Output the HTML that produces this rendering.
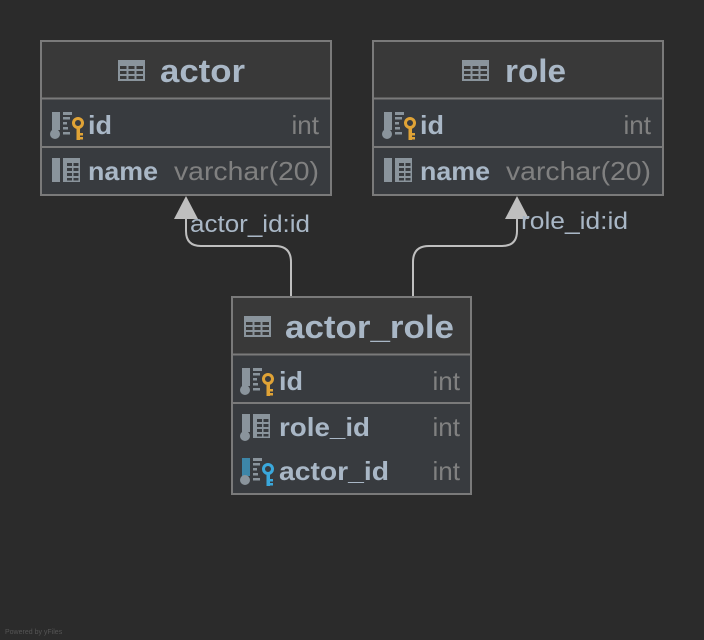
<!DOCTYPE html>
<html><head><meta charset="utf-8"><style>
html,body{margin:0;padding:0;background:#2b2b2b;}
svg{display:block}
text{font-family:"Liberation Sans","DejaVu Sans",sans-serif;}
.t{font-size:32px;font-weight:bold;fill:#a9b7c6}
.n{font-size:26px;font-weight:bold;fill:#a9b7c6}
.ty{font-size:26px;fill:#808080}
.lb{font-size:24px;fill:#a9b7c6}
</style></head><body>
<svg width="704" height="640" viewBox="0 0 704 640" xmlns="http://www.w3.org/2000/svg">
<defs>
 <g id="tbl"><rect x="0" y="0" width="27" height="21" fill="#8a949c"/>
  <g fill="#393939"><rect x="2" y="6" width="6.5" height="3"/><rect x="10.5" y="6" width="6" height="3"/><rect x="18.5" y="6" width="6.5" height="3"/>
  <rect x="2" y="11" width="6.5" height="3"/><rect x="10.5" y="11" width="6" height="3"/><rect x="18.5" y="11" width="6.5" height="3"/>
  <rect x="2" y="16" width="6.5" height="3"/><rect x="10.5" y="16" width="6" height="3"/><rect x="18.5" y="16" width="6.5" height="3"/></g></g>
 <g id="grid"><rect x="12" y="-12" width="17" height="24" fill="#8a949c"/>
  <g fill="#383b3f"><rect x="16" y="-7" width="5" height="3"/><rect x="22.5" y="-7" width="5" height="3"/><rect x="16" y="-2" width="5" height="3"/><rect x="22.5" y="-2" width="5" height="3"/><rect x="16" y="3" width="5" height="3"/><rect x="22.5" y="3" width="5" height="3"/><rect x="16" y="8" width="5" height="2.5"/><rect x="22.5" y="8" width="5" height="2.5"/></g></g>
 <g id="lines" fill="#8a949c"><rect x="12" y="-12" width="9" height="3"/><rect x="12" y="-7" width="7" height="2.5"/><rect x="12" y="-2" width="4" height="2.5"/><rect x="12" y="3" width="5" height="2.5"/><rect x="12" y="8" width="7" height="2.5"/></g>
 <g id="key"><circle cx="27" cy="-1" r="4.5" fill="none" stroke-width="3"/><rect x="25.5" y="2" width="3.5" height="14" stroke="none"/><rect x="28" y="9" width="4" height="2.5" stroke="none"/><rect x="28" y="13" width="4" height="2.5" stroke="none"/></g>
 <g id="pk"><rect x="1" y="-12" width="8" height="18" fill="#8a949c"/><circle cx="4" cy="10" r="5" fill="#8a949c"/><use href="#lines"/>
  <use href="#key" fill="#e0a336" stroke="#e0a336"/></g>
 <g id="fkk"><rect x="1" y="-12" width="8" height="18" fill="#3d86a8"/><circle cx="4" cy="10" r="5" fill="#8a949c"/><use href="#lines"/>
  <use href="#key" fill="#3aa8dc" stroke="#3aa8dc"/></g>
 <g id="col"><rect x="1" y="-12" width="8" height="24" fill="#8a949c"/><use href="#grid"/></g>
 <g id="fk"><rect x="1" y="-12" width="8" height="18" fill="#8a949c"/><circle cx="4" cy="10" r="5" fill="#8a949c"/><use href="#grid"/></g>
</defs>

<g fill="none" stroke="#bfbfbf" stroke-width="2">
 <path d="M291 297 V262 Q291 246 275 246 H201 Q186 246 186 231 V216"/>
 <path d="M413 297 V262 Q413 246 429 246 H502 Q517 246 517 231 V216"/>
</g>
<polygon points="186,196 174,219 198,219" fill="#bfbfbf"/>
<polygon points="517,196 505,219 529,219" fill="#bfbfbf"/>
<text class="lb" x="190" y="232" textLength="120" lengthAdjust="spacingAndGlyphs">actor_id:id</text>
<text class="lb" x="521" y="229" textLength="107" lengthAdjust="spacingAndGlyphs">role_id:id</text>

<rect x="41" y="41" width="290" height="154" fill="#383b3f" stroke="#7a7a7a" stroke-width="2"/>
<rect x="42" y="42" width="288" height="56" fill="#393939"/>
<line x1="41" y1="98.5" x2="331" y2="98.5" stroke="#7a7a7a" stroke-width="2"/>
<line x1="41" y1="147" x2="331" y2="147" stroke="#7a7a7a" stroke-width="2"/>
<use href="#tbl" x="118" y="60"/>
<text class="t" x="160" y="82" textLength="85" lengthAdjust="spacingAndGlyphs">actor</text>
<use href="#pk" x="51" y="124"/><text class="n" x="88" y="134" textLength="24" lengthAdjust="spacingAndGlyphs">id</text><text class="ty" x="319" y="134" text-anchor="end">int</text>
<use href="#col" x="51" y="170"/><text class="n" x="88" y="180" textLength="70" lengthAdjust="spacingAndGlyphs">name</text><text class="ty" x="174" y="180" textLength="145" lengthAdjust="spacingAndGlyphs">varchar(20)</text>

<rect x="373" y="41" width="290" height="154" fill="#383b3f" stroke="#7a7a7a" stroke-width="2"/>
<rect x="374" y="42" width="288" height="56" fill="#393939"/>
<line x1="373" y1="98.5" x2="663" y2="98.5" stroke="#7a7a7a" stroke-width="2"/>
<line x1="373" y1="147" x2="663" y2="147" stroke="#7a7a7a" stroke-width="2"/>
<use href="#tbl" x="462" y="60"/>
<text class="t" x="505" y="82" textLength="61" lengthAdjust="spacingAndGlyphs">role</text>
<use href="#pk" x="383" y="124"/><text class="n" x="420" y="134" textLength="24" lengthAdjust="spacingAndGlyphs">id</text><text class="ty" x="651" y="134" text-anchor="end">int</text>
<use href="#col" x="383" y="170"/><text class="n" x="420" y="180" textLength="70" lengthAdjust="spacingAndGlyphs">name</text><text class="ty" x="506" y="180" textLength="145" lengthAdjust="spacingAndGlyphs">varchar(20)</text>

<rect x="232" y="297" width="239" height="197" fill="#383b3f" stroke="#7a7a7a" stroke-width="2"/>
<rect x="233" y="298" width="237" height="56" fill="#393939"/>
<line x1="232" y1="354.5" x2="471" y2="354.5" stroke="#7a7a7a" stroke-width="2"/>
<line x1="232" y1="403" x2="471" y2="403" stroke="#7a7a7a" stroke-width="2"/>
<use href="#tbl" x="244" y="316"/>
<text class="t" x="285" y="338" textLength="169" lengthAdjust="spacingAndGlyphs">actor_role</text>
<use href="#pk" x="241" y="380"/><text class="n" x="279" y="390" textLength="24" lengthAdjust="spacingAndGlyphs">id</text><text class="ty" x="460" y="390" text-anchor="end">int</text>
<use href="#fk" x="241" y="426"/><text class="n" x="279" y="436" textLength="91" lengthAdjust="spacingAndGlyphs">role_id</text><text class="ty" x="460" y="436" text-anchor="end">int</text>
<use href="#fkk" x="241" y="470"/><text class="n" x="279" y="480" textLength="110" lengthAdjust="spacingAndGlyphs">actor_id</text><text class="ty" x="460" y="480" text-anchor="end">int</text>

<text x="5" y="634" style="font-size:7px;fill:#555">Powered by yFiles</text>
</svg>
</body></html>
